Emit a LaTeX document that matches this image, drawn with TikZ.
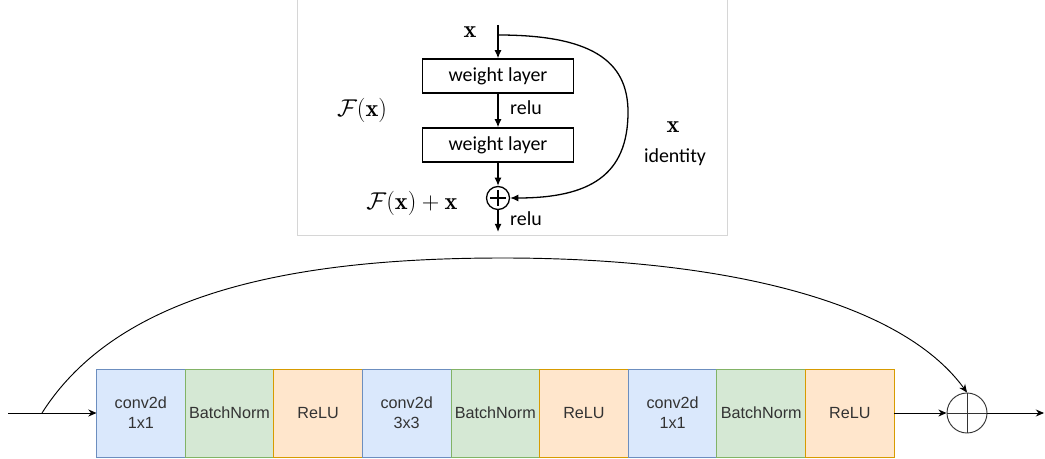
\documentclass[tikz,border=0pt]{standalone}
\usepackage{fontspec}
\newfontfamily\drawfont{Liberation Sans}
\newfontfamily\paperfont{Carlito}
\usetikzlibrary{arrows.meta, positioning}
\definecolor{convfill}{HTML}{DAE8FC}
\definecolor{convdraw}{HTML}{6C8EBF}
\definecolor{normfill}{HTML}{D5E8D4}
\definecolor{normdraw}{HTML}{82B366}
\definecolor{actfill}{HTML}{FFE6CC}
\definecolor{actdraw}{HTML}{D79B00}
\definecolor{textgray}{HTML}{333333}
\definecolor{framegray}{HTML}{D6D6D6}

\begin{document}
\begin{tikzpicture}[
    x=0.03cm, y=-0.03cm,
    layer/.style={
        draw=black,
        line width=1.1pt,
        minimum width=4.53cm,
        minimum height=1.02cm,
        font=\paperfont\fontsize{17}{20}\selectfont
    },
    addone/.style={
        draw=black,
        circle,
        line width=1.1pt,
        minimum size=0.69cm,
        path picture={
            \draw[line width=1.1pt] ([yshift=-3pt]path picture bounding box.north) -- ([yshift=3pt]path picture bounding box.south);
            \draw[line width=1.1pt] ([xshift=3pt]path picture bounding box.west) -- ([xshift=-3pt]path picture bounding box.east);
        }
    },
    flow/.style={
        -{Latex[length=7pt,width=6pt]},
        line width=1.1pt
    },
    tag/.style={font=\paperfont\fontsize{17}{20}\selectfont},
    mathtag/.style={font=\fontsize{20.74}{24}\selectfont},
    frame/.style={draw=framegray, line width=0.8pt},
    block/.style={
        minimum width=2.658cm,
        minimum height=2.64cm,
        outer sep=0pt,
        align=center,
        line width=0.8pt,
        text=textgray,
        font=\drawfont\fontsize{13.8}{17}\selectfont
    },
    conv/.style={block, draw=convdraw, fill=convfill},
    norm/.style={block, draw=normdraw, fill=normfill},
    act/.style={block, draw=actdraw, fill=actfill},
    addtwo/.style={
        draw=textgray,
        circle,
        line width=0.8pt,
        minimum size=1.2cm,
        path picture={
            \draw[textgray, line width=0.8pt] (path picture bounding box.north) -- (path picture bounding box.south);
            \draw[textgray, line width=0.8pt] (path picture bounding box.west) -- (path picture bounding box.east);
        }
    },
    link/.style={
        -{Stealth[length=7pt,width=6pt]},
        line width=0.8pt
    }
]
\useasboundingbox (0,0) rectangle (1045,459);

% ==================== RESIDUAL BLOCK (PAPER) ====================
\draw[frame] (297,0) -- (297,235) -- (727,235) -- (727,0);

\coordinate (xin) at (498,25);
\coordinate (fork) at (498,35);
\node[layer] (wa) at (498,76) {weight layer};
\node[layer] (wb) at (498,145) {weight layer};
\node[addone] (plus) at (498,198) {};
\coordinate (fout) at (498,232);

\node[mathtag] (xtop) at (470,32) {$\mathbf{x}$};
\node[mathtag] (fx) at (362,110) {$\mathcal{F}(\mathbf{x})$};
\node[mathtag] (fxx) at (412,203) {$\mathcal{F}(\mathbf{x}) + \mathbf{x}$};
\node[mathtag] (xright) at (673,127) {$\mathbf{x}$};
\node[tag] (ident) at (675,157) {identity};
\node[tag, anchor=west] (relua) at (506,108) {relu};
\node[tag, anchor=west] (relub) at (506,219) {relu};

\draw[flow] (xin) -- (wa);
\draw[flow] (wa) -- (wb);
\draw[flow] (wb) -- (plus);
\draw[flow] (plus) -- (fout);
\draw[flow] (fork) .. controls (590,35) and (628,60) .. (628,112)
    .. controls (628,175) and (590,198) .. (plus.east);

% ==================== BOTTLENECK BLOCK ====================
\coordinate (in) at (8,413);
\coordinate (split) at (42,413);
\node[conv] (conva) at (140.8,413) {conv2d\\1x1};
\node[norm, right=0pt of conva] (bna) {BatchNorm};
\node[act, right=0pt of bna] (acta) {ReLU};
\node[conv, right=0pt of acta] (convb) {conv2d\\3x3};
\node[norm, right=0pt of convb] (bnb) {BatchNorm};
\node[act, right=0pt of bnb] (actb) {ReLU};
\node[conv, right=0pt of actb] (convc) {conv2d\\1x1};
\node[norm, right=0pt of convc] (bnc) {BatchNorm};
\node[act, right=0pt of bnc] (actc) {ReLU};
\node[addtwo] (add) at (967,413) {};
\coordinate (out) at (1044,413);

\draw[link] (in) -- (conva);
\draw[link] (actc) -- (add);
\draw[link] (add) -- (out);
\draw[link] (split) .. controls (120,290) and (300,258) .. (503,258)
    .. controls (720,258) and (900,300) .. (add.north);

\end{tikzpicture}
\end{document}
